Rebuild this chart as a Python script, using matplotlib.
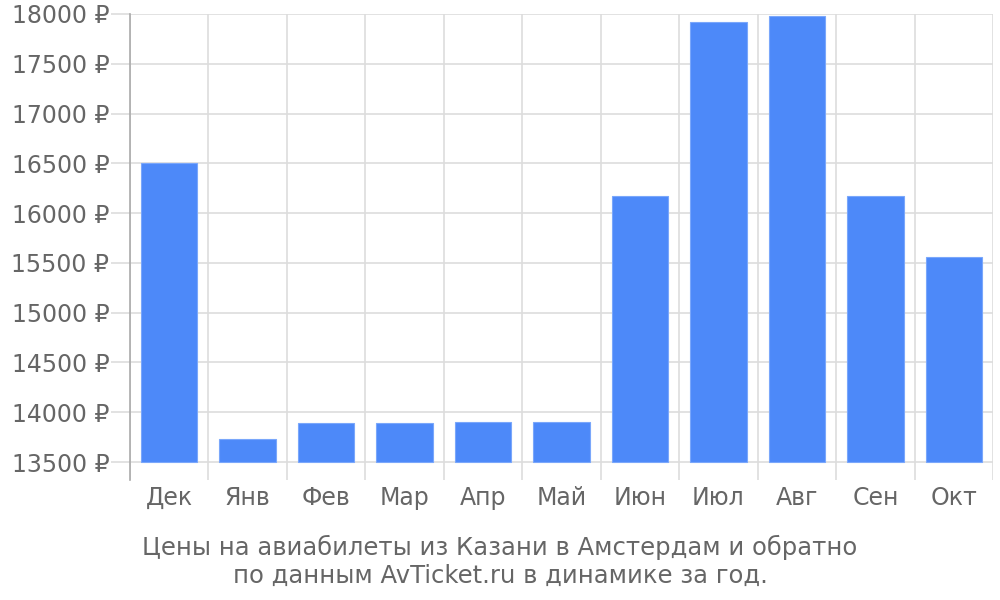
import matplotlib.pyplot as plt
import numpy as np

# --- Data ---
months = ["Дек", "Янв", "Фев", "Мар", "Апр", "Май", "Июн", "Июл", "Авг", "Сен", "Окт"]
prices = [16500, 13730, 13890, 13890, 13900, 13900, 16170, 17920, 17975, 16170, 15560]
y_ticks = [13500, 14000, 14500, 15000, 15500, 16000, 16500, 17000, 17500, 18000]
caption = "Цены на авиабилеты из Казани в Амстердам и обратно\nпо данным AvTicket.ru в динамике за год."

BAR_COLOR = "#4d89f9"
GRID_COLOR = "#dddddd"
TEXT_COLOR = "#666666"
BASE = 13500
FS = 17

plt.rcParams.update({"font.family": "DejaVu Sans", "font.size": FS})

fig = plt.figure(figsize=(10, 6), dpi=100)
ax = fig.add_axes([0.13, 0.2, 0.863, 0.7767])

x = np.arange(len(months))
heights = [p - BASE for p in prices]
ax.bar(x, heights, bottom=BASE, width=0.72, color=BAR_COLOR,
       edgecolor="#7aa7fb", linewidth=0.8, zorder=3)

ax.set_xlim(-0.5, len(months) - 0.5)
ax.set_ylim(13320, 18000)

ax.set_yticks(y_ticks)
ax.set_yticklabels([f"{v} ₽" for v in y_ticks], color=TEXT_COLOR)
ax.set_xticks(x)
ax.set_xticklabels(months, color=TEXT_COLOR)
ax.set_xticks(np.arange(-0.5, len(months)), minor=True)

ax.tick_params(axis="y", length=14, width=1.2, color=GRID_COLOR, pad=1)
ax.tick_params(axis="x", which="major", length=0, pad=4.5)
ax.tick_params(axis="x", which="minor", length=0)

ax.grid(axis="y", which="major", color=GRID_COLOR, linewidth=1.2, zorder=0)
ax.grid(axis="x", which="minor", color=GRID_COLOR, linewidth=1.2, zorder=0)
ax.grid(axis="x", which="major", visible=False)

for side in ["top", "right", "bottom"]:
    ax.spines[side].set_visible(False)
ax.spines["left"].set_color("#aaaaaa")
ax.spines["left"].set_linewidth(1.2)

fig.text(0.5, 0.064, caption, ha="center", va="center", color=TEXT_COLOR,
         fontsize=17.5, linespacing=1.22)

fig.savefig("out.png", dpi=100)
